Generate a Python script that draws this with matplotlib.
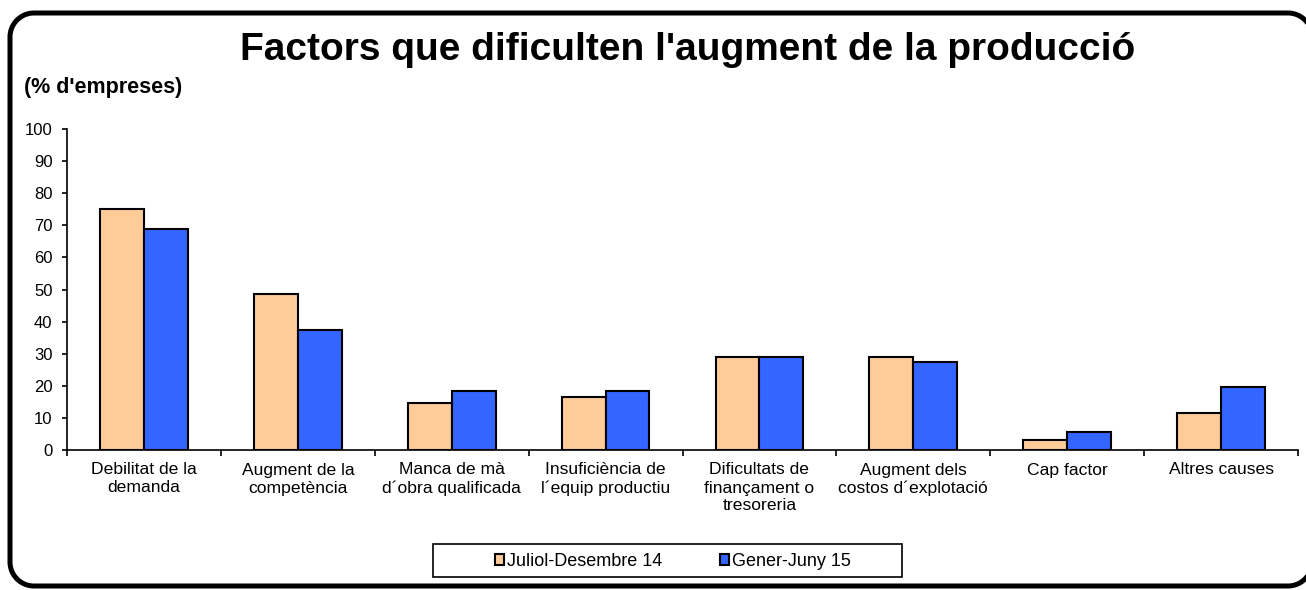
import matplotlib
matplotlib.use("Agg")
import matplotlib.pyplot as plt
import numpy as np
from matplotlib.patches import Rectangle

plt.rcParams['font.family'] = ['Liberation Sans', 'DejaVu Sans']

categories = ["Debilitat de la\ndemanda", "Augment de la\ncompetència", "Manca de mà\nd´obra qualificada",
              "Insuficiència de\nl´equip productiu", "Dificultats de\nfinançament o\ntresoreria",
              "Augment dels\ncostos d´explotació", "Cap factor", "Altres causes"]
series_names = ["Juliol-Desembre 14", "Gener-Juny 15"]
jul_des_14 = [75, 48.5, 14.5, 16.5, 29, 29, 3, 11.5]
gen_jun_15 = [69, 37.5, 18.3, 18.3, 29, 27.3, 5.5, 19.5]
yticks = list(range(0, 101, 10))
colors = ["#FFCC99", "#3366FF"]

W, H = 1306, 590
fig = plt.figure(figsize=(W/100, H/100), dpi=100)


def rounded_rect(x0, y0, x1, y1, r, n=24):
    pts = []
    corners = [(x1 - r, y1 - r, 0), (x0 + r, y1 - r, 90), (x0 + r, y0 + r, 180), (x1 - r, y0 + r, 270)]
    for cx, cy, a0 in corners:
        t = np.radians(np.linspace(a0, a0 + 90, n))
        pts.extend(zip(cx + r * np.cos(t), cy + r * np.sin(t)))
    pts.append(pts[0])
    return np.array(pts)


# overlay axes in pixel coordinates for the rounded border and legend frame
bg = fig.add_axes([0, 0, 1, 1], zorder=5)
bg.set_xlim(0, W)
bg.set_ylim(0, H)
bg.axis('off')
bg.patch.set_alpha(0)
rr = rounded_rect(10, 4, 1312, 577, 24)
bg.plot(rr[:, 0], rr[:, 1], color='black', lw=3.6, solid_joinstyle='round', solid_capstyle='round')
bg.add_patch(Rectangle((433, H - 577), 469, 33, fill=False, ec='black', lw=1.2))

ax = fig.add_axes([67/W, 1 - 450/H, (1298-67)/W, (450-129)/H])
x = np.arange(len(categories))
bw = 0.285
ax.bar(x - bw/2, jul_des_14, bw, color=colors[0], edgecolor="black", lw=1.5, label=series_names[0])
ax.bar(x + bw/2, gen_jun_15, bw, color=colors[1], edgecolor="black", lw=1.5, label=series_names[1])

ax.set_xlim(-0.5, len(categories) - 0.5)
ax.set_ylim(0, 100)
ax.set_yticks(yticks)
ax.tick_params(axis='y', labelsize=12, length=3.5, width=1.2, direction='out', pad=7)
ax.set_xticks(np.arange(len(categories) + 1) - 0.5)
ax.set_xticklabels([])
ax.set_xticks(x, minor=True)
ax.set_xticklabels(categories, minor=True, fontsize=12.6, linespacing=1.25)
ax.tick_params(axis='x', which='minor', length=0, pad=9)
ax.tick_params(axis='x', which='major', length=4, width=1.2, direction='out')
for s in ['top', 'right']:
    ax.spines[s].set_visible(False)
for s in ['left', 'bottom']:
    ax.spines[s].set_linewidth(1.2)

fig.text(688/W, 1 - 50/H, "Factors que dificulten l'augment de la producció",
         ha='center', va='center', fontsize=28, fontweight='bold')
fig.text(24/W, 1 - 88/H, "(% d'empreses)", ha='left', va='center', fontsize=15.5, fontweight='bold')

leg = fig.legend(loc='center', bbox_to_anchor=(673/W, 1 - 561/H), ncol=2, fontsize=13,
                 frameon=False, handlelength=0.5, handleheight=0.55, handletextpad=0.15,
                 columnspacing=3.2, borderpad=0.2)
fig.savefig("out.png", dpi=100)
